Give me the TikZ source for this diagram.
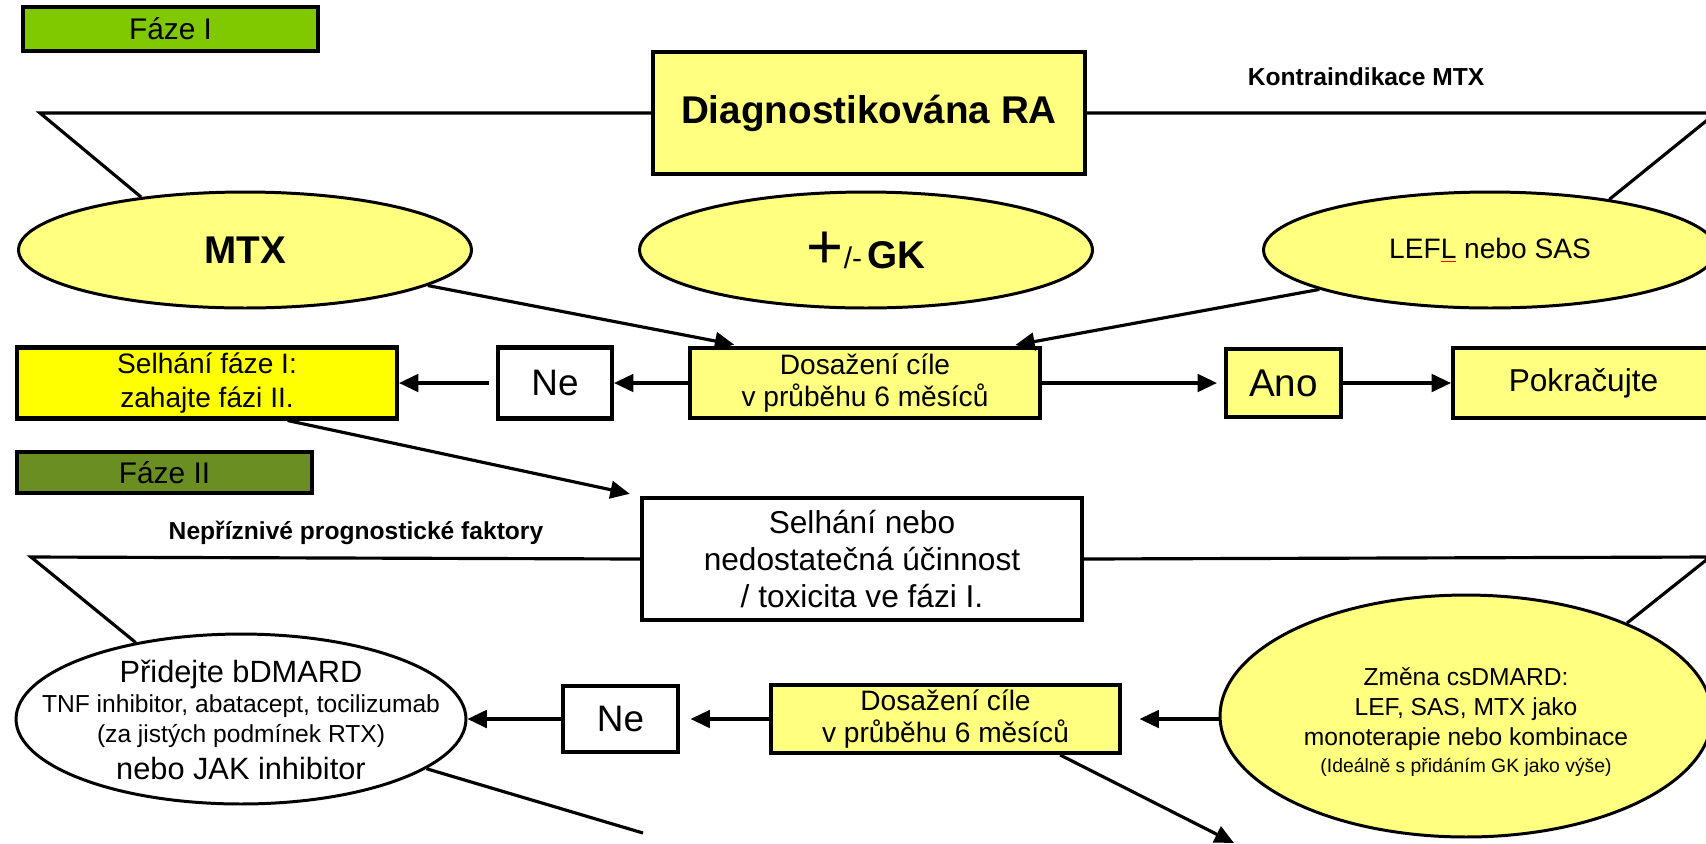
\documentclass[tikz,border=0pt]{standalone}
\usepackage{fontspec}
\setmainfont{Liberation Sans}
\usetikzlibrary{shapes.geometric,arrows.meta,calc}

\begin{document}
\begin{tikzpicture}[x=0.02cm, y=-0.02cm,
    box/.style={draw, line width=2.3pt, inner sep=0pt, align=center},
    oval/.style={ellipse, draw, line width=1.7pt, inner sep=0pt, align=center},
    link/.style={line width=1.8pt},
    arr/.style={line width=1.8pt, -{Triangle[length=11pt,width=10pt]}}]
    % Define colors
    \definecolor{paleyellow}{RGB}{255,255,128}
    \definecolor{fullyellow}{RGB}{255,255,0}
    \definecolor{phaseone}{RGB}{128,200,0}
    \definecolor{phasetwo}{RGB}{107,142,35}

    % Canvas
    \useasboundingbox (0,0) rectangle (1706,843);
    \clip (0,0) rectangle (1706,843);

    % Phase I
    \node[box, fill=phaseone, minimum width=5.9cm, minimum height=0.88cm,
        font=\fontsize{17}{20}\selectfont] (faze1) at (170.5,29) {Fáze I};
    \node[box, fill=paleyellow, minimum width=8.64cm, minimum height=2.44cm,
        font=\bfseries\fontsize{22}{26}\selectfont] (diag) at (869,113) {Diagnostikována RA};
    \node[font=\bfseries\fontsize{14}{16}\selectfont] (kontra) at (1366,77) {Kontraindikace MTX};

    \node[oval, fill=paleyellow, minimum width=9.06cm, minimum height=2.32cm,
        font=\bfseries\fontsize{22}{26}\selectfont] (mtx) at (245,250) {MTX};
    \node[oval, fill=paleyellow, minimum width=9.06cm, minimum height=2.32cm] (gk) at (866,250)
        {{\fontsize{36}{36}\selectfont +}{\fontsize{17}{20}\selectfont /-} {\bfseries\fontsize{22}{26}\selectfont GK}};
    \node[oval, fill=paleyellow, minimum width=9.06cm, minimum height=2.32cm,
        font=\fontsize{16}{19}\selectfont] (lefl) at (1490,250)
        {LEF{\color{red}\underline{\color{black}L}} nebo SAS};

    \node[box, fill=fullyellow, minimum width=7.6cm, minimum height=1.42cm,
        font=\fontsize{16}{19}\selectfont] (selh1) at (207,383) {Selhání fáze I:\\zahajte fázi II.};
    \node[box, fill=white, minimum width=2.28cm, minimum height=1.42cm,
        font=\fontsize{21}{24}\selectfont] (ne1) at (555,383) {Ne};
    \node[box, fill=paleyellow, minimum width=7cm, minimum height=1.4cm,
        font=\fontsize{16}{18}\selectfont] (dos1) at (865,383) {Dosažení cíle\\v průběhu 6 měsíců};
    \node[box, fill=paleyellow, minimum width=2.3cm, minimum height=1.36cm,
        font=\fontsize{22}{24}\selectfont] (ano) at (1283.5,383) {Ano};
    \node[box, fill=paleyellow, minimum width=5.22cm, minimum height=1.4cm,
        font=\fontsize{18}{20}\selectfont] (pokr) at (1583.5,383) {Pokračujte};

    % Phase II
    \node[box, fill=phasetwo, minimum width=5.9cm, minimum height=0.82cm,
        font=\fontsize{17}{20}\selectfont] (faze2) at (164.5,472.5) {Fáze II};
    \node[font=\bfseries\fontsize{14}{16}\selectfont] (nepr) at (356,533) {Nepříznivé prognostické faktory};
    \node[box, fill=white, minimum width=8.8cm, minimum height=2.44cm,
        font=\fontsize{18}{21}\selectfont] (selh2) at (862,559)
        {Selhání nebo\\nedostatečná účinnost\\/ toxicita ve fázi I.};

    \node[oval, fill=white, minimum width=9cm, minimum height=3.4cm] (bdmard) at (241,719) {};
    \node[align=center, font=\fontsize{14}{17}\selectfont] (bdmardtext) at (241,720)
        {\fontsize{17.5}{20}\selectfont Přidejte bDMARD\\
         TNF inhibitor, abatacept, tocilizumab\\
         (za jistých podmínek RTX)\\[4pt]
         \fontsize{17.5}{20}\selectfont nebo JAK inhibitor};
    \node[box, fill=white, minimum width=2.3cm, minimum height=1.32cm,
        font=\fontsize{21}{24}\selectfont] (ne2) at (620.5,719) {Ne};
    \node[box, fill=paleyellow, minimum width=6.98cm, minimum height=1.36cm,
        font=\fontsize{16}{18}\selectfont] (dos2) at (945.5,719) {Dosažení cíle\\v průběhu 6 měsíců};
    \node[oval, fill=paleyellow, minimum width=9.84cm, minimum height=4.84cm] (zmena) at (1466,716) {};
    \node[align=center, font=\fontsize{14}{17}\selectfont] (zmenatext) at (1466,722)
        {Změna csDMARD:\\LEF, SAS, MTX jako\\monoterapie nebo kombinace\\[-2pt]
         \fontsize{11}{13}\selectfont (Ideálně s přidáním GK jako výše)};

    % Corners and loose ends
    \coordinate (topL) at (40,113);
    \coordinate (topR) at (1716,113);
    \coordinate (midL) at (31,557);
    \coordinate (midR) at (1710,557);
    \coordinate (endA) at (1234,843);
    \coordinate (endB) at (643,833);

    % Connectors, phase I
    \draw[link] (diag.west) -- (topL) -- (mtx.153);
    \draw[link] (diag.east) -- (topR) -- (lefl.23);
    \draw[arr, shorten >=4pt] (mtx.-11) -- ($(dos1.north west)!0.15!(dos1.north east)$);
    \draw[arr, shorten >=3pt] (lefl.193) -- ($(dos1.north west)!0.91!(dos1.north east)$);
    \draw[arr] (dos1.west) -- (ne1.east);
    \draw[arr, shorten <=4pt] (ne1.west) -- (selh1.east);
    \draw[arr, shorten >=4pt] (dos1.east) -- (ano.west);
    \draw[arr] (ano.east) -- (pokr.west);
    \draw[arr, shorten >=6pt] ($(selh1.south west)!0.71!(selh1.south east)$) -- (selh2.north west);

    % Connectors, phase II
    \draw[link] (selh2.west) -- (midL) -- (bdmard.144);
    \draw[link] (selh2.east) -- (midR) -- (zmena.30);
    \draw[arr, shorten >=10pt] (zmena.west |- dos2.east) -- (dos2.east);
    \draw[arr, shorten >=6pt] (dos2.west) -- (ne2.east);
    \draw[arr] (ne2.west) -- (bdmard.east);
    \draw[arr] ($(dos2.south west)!0.825!(dos2.south east)$) -- (endA);
    \draw[link] (bdmard.-15) -- (endB);
\end{tikzpicture}
\end{document}
